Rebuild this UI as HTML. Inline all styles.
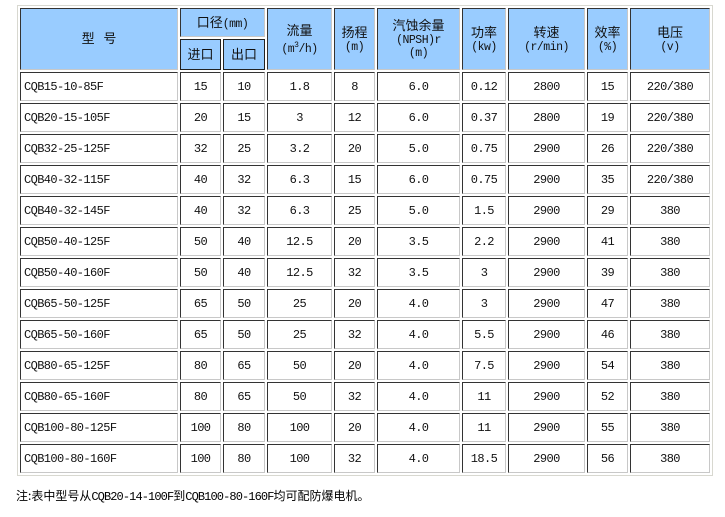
<!DOCTYPE html>
<html><head><meta charset="utf-8"><style>
body{margin:0;background:#fff;width:725px;height:517px;position:relative;overflow:hidden;font-family:"Liberation Mono","Noto Sans CJK SC",monospace;}
table{position:absolute;left:17px;top:5px;border-collapse:separate;border-spacing:2px;border:1px solid #d8d8d0;table-layout:fixed;}
td{border:1px solid;border-color:#333 #c8c8c8 #c8c8c8 #333;padding:0;text-align:center;font-size:12px;height:27px;color:#111;letter-spacing:-0.6px;white-space:nowrap;overflow:hidden}
td.h{background:#99ccff;font-family:"Liberation Mono","Noto Sans CJK SC",monospace;font-size:11.5px;line-height:13px;letter-spacing:-0.5px}
td.m{text-align:left;padding-left:3px}
.cj{font-family:"Noto Sans CJK SC",sans-serif;font-size:13px;letter-spacing:0}
.note{position:absolute;left:16px;top:487px;font-size:12px;font-family:"Liberation Mono","Noto Sans CJK SC",monospace;color:#000;letter-spacing:-0.9px}
.note .cj{font-size:12px}
</style></head><body>
<table>
<colgroup><col style="width:158px"><col style="width:41px"><col style="width:42px"><col style="width:65px"><col style="width:41px"><col style="width:83px"><col style="width:44px"><col style="width:77px"><col style="width:41px"><col style="width:80px"></colgroup>
<tr><td class="h" rowspan="2"><span class="cj">型&nbsp;&nbsp;&nbsp;号</span></td><td class="h" colspan="2" style="height:27px"><span class="cj">口径</span>(mm)</td><td class="h" rowspan="2"><span class="cj">流量</span><br>(m<sup style="font-size:8px">3</sup>/h)</td><td class="h" rowspan="2"><span class="cj">扬程</span><br>(m)</td><td class="h" rowspan="2"><span class="cj">汽蚀余量</span><br>(NPSH)r<br>(m)</td><td class="h" rowspan="2"><span class="cj">功率</span><br>(kw)</td><td class="h" rowspan="2"><span class="cj">转速</span><br>(r/min)</td><td class="h" rowspan="2"><span class="cj">效率</span><br>(%)</td><td class="h" rowspan="2"><span class="cj">电压</span><br>(v)</td></tr>
<tr><td class="h" style="height:29px;border-color:#222"><span class="cj">进口</span></td><td class="h" style="border-color:#222"><span class="cj">出口</span></td></tr>
<tr><td class="m">CQB15-10-85F</td><td>15</td><td>10</td><td>1.8</td><td>8</td><td>6.0</td><td>0.12</td><td>2800</td><td>15</td><td>220/380</td></tr>
<tr><td class="m">CQB20-15-105F</td><td>20</td><td>15</td><td>3</td><td>12</td><td>6.0</td><td>0.37</td><td>2800</td><td>19</td><td>220/380</td></tr>
<tr><td class="m">CQB32-25-125F</td><td>32</td><td>25</td><td>3.2</td><td>20</td><td>5.0</td><td>0.75</td><td>2900</td><td>26</td><td>220/380</td></tr>
<tr><td class="m">CQB40-32-115F</td><td>40</td><td>32</td><td>6.3</td><td>15</td><td>6.0</td><td>0.75</td><td>2900</td><td>35</td><td>220/380</td></tr>
<tr><td class="m">CQB40-32-145F</td><td>40</td><td>32</td><td>6.3</td><td>25</td><td>5.0</td><td>1.5</td><td>2900</td><td>29</td><td>380</td></tr>
<tr><td class="m">CQB50-40-125F</td><td>50</td><td>40</td><td>12.5</td><td>20</td><td>3.5</td><td>2.2</td><td>2900</td><td>41</td><td>380</td></tr>
<tr><td class="m">CQB50-40-160F</td><td>50</td><td>40</td><td>12.5</td><td>32</td><td>3.5</td><td>3</td><td>2900</td><td>39</td><td>380</td></tr>
<tr><td class="m">CQB65-50-125F</td><td>65</td><td>50</td><td>25</td><td>20</td><td>4.0</td><td>3</td><td>2900</td><td>47</td><td>380</td></tr>
<tr><td class="m">CQB65-50-160F</td><td>65</td><td>50</td><td>25</td><td>32</td><td>4.0</td><td>5.5</td><td>2900</td><td>46</td><td>380</td></tr>
<tr><td class="m">CQB80-65-125F</td><td>80</td><td>65</td><td>50</td><td>20</td><td>4.0</td><td>7.5</td><td>2900</td><td>54</td><td>380</td></tr>
<tr><td class="m">CQB80-65-160F</td><td>80</td><td>65</td><td>50</td><td>32</td><td>4.0</td><td>11</td><td>2900</td><td>52</td><td>380</td></tr>
<tr><td class="m">CQB100-80-125F</td><td>100</td><td>80</td><td>100</td><td>20</td><td>4.0</td><td>11</td><td>2900</td><td>55</td><td>380</td></tr>
<tr><td class="m">CQB100-80-160F</td><td>100</td><td>80</td><td>100</td><td>32</td><td>4.0</td><td>18.5</td><td>2900</td><td>56</td><td>380</td></tr>
</table>
<div class="note"><span class="cj">注:表中型号从</span>CQB20-14-100F<span class="cj">到</span>CQB100-80-160F<span class="cj">均可配防爆电机。</span></div>
</body></html>
